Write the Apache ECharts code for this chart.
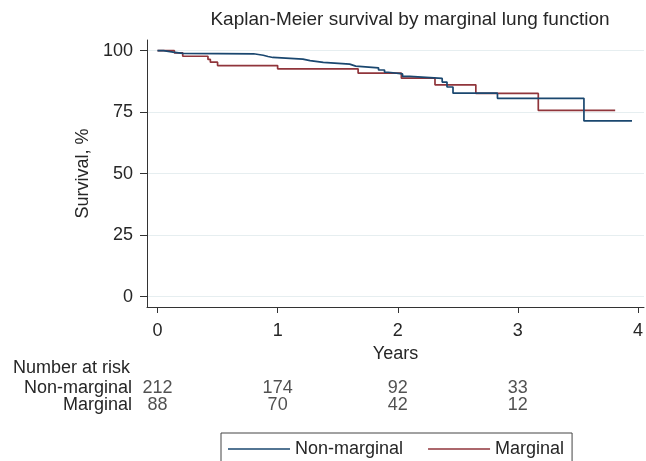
<!DOCTYPE html>
<html><head><meta charset="utf-8">
<script src="https://cdn.jsdelivr.net/npm/echarts@6/dist/echarts.min.js"></script>
<style>html,body{margin:0;padding:0;background:#fff}#c{width:646px;height:461px}</style>
</head><body><div id="c"></div>
<script>
const titleText = 'Kaplan-Meier survival by marginal lung function';
const xAxisTitle = 'Years';
const yAxisTitle = 'Survival, %';
const riskTitle = 'Number at risk';
const groupNames = ['Non-marginal', 'Marginal'];
const xTicks = [0, 1, 2, 3, 4];
const yTicks = [0, 25, 50, 75, 100];
const yGrid = [25, 50, 75, 100];
// Non-marginal KM steps (years, survival %)
const nmTimes = [0, 0.05, 0.13, 0.21, 0.80, 0.88, 0.92, 0.96, 1.21, 1.27, 1.38, 1.60, 1.65, 1.84, 1.89, 1.92, 2.04, 2.10, 2.37, 2.41, 2.46, 2.83, 3.55, 3.95];
const nmSurv  = [100, 99.4, 98.9, 98.7, 98.1, 97.6, 97.2, 96.5, 95.9, 95.2, 94.5, 93.7, 93.0, 92.1, 91.2, 90.5, 89.5, 88.7, 87.2, 85.2, 82.7, 80.6, 71.4, 71.4];
// Marginal KM steps
const mTimes = [0, 0.14, 0.21, 0.42, 0.44, 0.50, 1.00, 1.67, 2.03, 2.31, 2.65, 3.17, 3.81];
const mSurv  = [100, 99.1, 97.7, 96.4, 95.3, 93.9, 92.6, 90.8, 88.8, 86.1, 82.6, 75.7, 75.7];
// Number at risk
const riskTimes = [0, 1, 2, 3];
const riskNonMarginal = [212, 174, 92, 33];
const riskMarginal = [88, 70, 42, 12];

const FONT = 'Liberation Sans, Arial, Helvetica, sans-serif';
const TXT = '#262626';
const FS = 18;
const XMIN = -0.0875, XMAX = 4.05, YMIN = -4.2, YMAX = 104.3;
const BLUE = '#1a476f', RED = '#90353b';

const chart = echarts.init(document.getElementById('c'), null, {renderer: 'canvas'});
chart.setOption({
  animation: false,
  backgroundColor: '#fff',
  textStyle: {fontFamily: FONT, color: TXT},
  title: [
    {text: titleText, left: 410, top: 10, textAlign: 'center', padding: 0,
     textStyle: {fontFamily: FONT, fontSize: 19, fontWeight: 'normal', color: TXT}},
    {text: riskTitle, left: 13, top: 359, padding: 0,
     textStyle: {fontFamily: FONT, fontSize: FS, fontWeight: 'normal', color: TXT}}
  ],
  legend: {
    data: groupNames.map(n => ({name: n, icon: 'rect'})),
    left: 221, top: 433, orient: 'horizontal',
    padding: [7, 8, 14, 7], itemGap: 25, itemWidth: 62, itemHeight: 1.5,
    borderColor: '#444', borderWidth: 1, selectedMode: false,
    textStyle: {fontFamily: FONT, fontSize: FS, color: TXT}
  },
  grid: [
    {left: 147, right: 2, top: 40, bottom: 154, containLabel: false},
    {left: 147, right: 2, top: 379.5, height: 34, containLabel: false}
  ],
  xAxis: [
    {type: 'value', gridIndex: 0, min: XMIN, max: XMAX,
     name: xAxisTitle, nameLocation: 'middle', nameGap: 38,
     nameTextStyle: {fontFamily: FONT, fontSize: FS, color: TXT},
     axisLine: {show: true, onZero: false, lineStyle: {color: '#333', width: 1}},
     axisTick: {show: true, length: 6, customValues: xTicks, lineStyle: {color: '#333'}},
     axisLabel: {customValues: xTicks, fontFamily: FONT, fontSize: FS, color: TXT, margin: 15},
     splitLine: {show: false}},
    {type: 'value', gridIndex: 1, min: XMIN, max: XMAX, show: false}
  ],
  yAxis: [
    {type: 'value', gridIndex: 0, min: YMIN, max: YMAX,
     name: yAxisTitle, nameLocation: 'middle', nameGap: 48,
     nameTextStyle: {fontFamily: FONT, fontSize: FS, color: TXT},
     axisLine: {show: true, onZero: false, lineStyle: {color: '#333', width: 1}},
     axisTick: {show: true, length: 7, customValues: yTicks, lineStyle: {color: '#333'}},
     axisLabel: {customValues: yTicks, fontFamily: FONT, fontSize: FS, color: TXT, margin: 14},
     splitLine: {show: true, customValues: yGrid, lineStyle: {color: '#e6eef0', width: 1}}},
    {type: 'category', gridIndex: 1, data: groupNames, inverse: true,
     axisLine: {show: false}, axisTick: {show: false}, splitLine: {show: false},
     axisLabel: {interval: 0, hideOverlap: false, fontFamily: FONT, fontSize: FS, color: TXT, margin: 15}}
  ],
  series: [
    {name: groupNames[0], type: 'line', step: 'end', xAxisIndex: 0, yAxisIndex: 0,
     symbol: 'none', lineStyle: {color: BLUE, width: 1.7}, itemStyle: {color: BLUE},
     data: nmTimes.map((t, i) => [t, nmSurv[i]]), z: 3},
    {name: groupNames[1], type: 'line', step: 'end', xAxisIndex: 0, yAxisIndex: 0,
     symbol: 'none', lineStyle: {color: RED, width: 1.7}, itemStyle: {color: RED},
     data: mTimes.map((t, i) => [t, mSurv[i]]), z: 2},
    {type: 'scatter', xAxisIndex: 1, yAxisIndex: 1, symbolSize: 1, silent: true,
     itemStyle: {color: 'rgba(0,0,0,0)'},
     label: {show: true, position: 'inside', formatter: p => String(p.value[2]),
             fontFamily: FONT, fontSize: FS, color: TXT},
     data: riskTimes.map((t, i) => [t, 0, riskNonMarginal[i]])
       .concat(riskTimes.map((t, i) => [t, 1, riskMarginal[i]]))}
  ]
});
</script></body></html>
